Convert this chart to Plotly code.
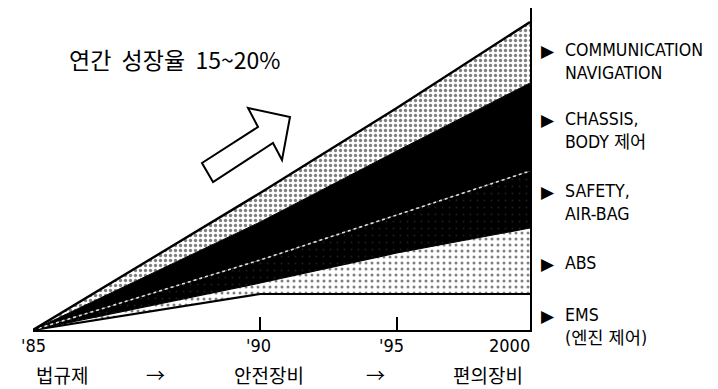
import numpy as np
import plotly.graph_objects as go

# ---------------- data ----------------
years = [1985, 1990, 1995, 2000]
tick_labels = ["'85", "'90", "'95", "2000"]
ems = [0, 36, 36, 36]
abs_sys = [0, 11, 41, 66]
safety = [0, 23, 38, 57]
chassis = [0, 38, 64, 88]
comm = [0, 29, 43, 61]
series_labels = [
    "COMMUNICATION<br>NAVIGATION",
    "CHASSIS,<br>BODY 제어",
    "SAFETY,<br>AIR-BAG",
    "ABS",
    "EMS<br>(엔진 제어)",
]
stage_labels = ["법규제", "→", "안전장비", "→", "편의장비"]
title_text = "연간  성장율  15~20%"

# ---------------- figure geometry ----------------
W, H = 718, 389
L, R, T, B = 33, 530, 8, 330  # plot area in pixels
YMAX = 322

# the original draws the time axis piecewise (first 5 years stretched)
axis_years = [1985, 1990, 1995, 2000]
axis_frac = [0.0, 0.457, 0.732, 1.0]
xpos = np.interp(years, axis_years, axis_frac)


def px(x, y):
    """pixel -> paper coordinates"""
    return (x - L) / (R - L), (B - y) / (B - T)


stack = np.cumsum(np.array([ems, abs_sys, safety, chassis, comm], dtype=float), axis=0)

LAT = "DejaVu Sans Condensed, Liberation Sans Narrow, DejaVu Sans, sans-serif"
KR = "Noto Sans CJK KR, sans-serif"

fig = go.Figure()
# EMS (white)
fig.add_trace(go.Scatter(x=xpos, y=stack[0], mode="lines", fill="tozeroy",
                         fillcolor="white", line=dict(color="black", width=2.2),
                         hoverinfo="skip", showlegend=False))
# ABS (sparse dots)
fig.add_trace(go.Scatter(x=xpos, y=stack[1], mode="lines", fill="tonexty",
                         fillcolor="white",
                         fillpattern=dict(shape=".", fgcolor="black", bgcolor="white",
                                          size=6, solidity=0.2),
                         line=dict(color="black", width=1.2),
                         hoverinfo="skip", showlegend=False))
# SAFETY (black, speckled)
fig.add_trace(go.Scatter(x=xpos, y=stack[2], mode="lines", fill="tonexty",
                         fillcolor="black",
                         fillpattern=dict(shape=".", fgcolor="#3a3a3a", bgcolor="black",
                                          size=7, solidity=0.06),
                         line=dict(color="#e0e0e0", width=1.6, dash="dot"),
                         hoverinfo="skip", showlegend=False))
# CHASSIS (black)
fig.add_trace(go.Scatter(x=xpos, y=stack[3], mode="lines", fill="tonexty",
                         fillcolor="black", line=dict(color="black", width=1),
                         hoverinfo="skip", showlegend=False))
# COMMUNICATION (dense stipple)
fig.add_trace(go.Scatter(x=xpos, y=stack[4], mode="lines", fill="tonexty",
                         fillcolor="white",
                         fillpattern=dict(shape=".", fgcolor="black", bgcolor="white",
                                          size=5, solidity=0.35),
                         line=dict(color="black", width=2.4),
                         hoverinfo="skip", showlegend=False))

annotations = []
# tick labels
tick_anchor = ["center", "center", "center", "right"]
tick_shift = [0, -2, -5, 2]
for xv, lab, anc, sh in zip(xpos, tick_labels, tick_anchor, tick_shift):
    annotations.append(dict(x=xv, xref="x", y=px(0, 345)[1], yref="paper",
                            text=lab, showarrow=False, xanchor=anc, yanchor="middle",
                            xshift=sh, font=dict(family=LAT, size=18, color="black")))

# stage labels along the bottom
stage_x = [62, 155, 269, 375, 488]
for sx, lab in zip(stage_x, stage_labels):
    xp, yp = px(sx, 374)
    annotations.append(dict(x=xp, xref="paper", y=yp, yref="paper", text=lab,
                            showarrow=False, xanchor="center", yanchor="middle",
                            font=dict(family=KR, size=19, color="black")))

# right-hand series labels
label_y = [51, 120, 192, 264, 316]
for ly, lab in zip(label_y, series_labels):
    xp, yp = px(548, ly)
    annotations.append(dict(x=xp, xref="paper", y=yp, yref="paper", text="▶",
                            showarrow=False, xanchor="center", yanchor="middle",
                            font=dict(family="DejaVu Sans", size=17, color="black")))
    xp2, yp2 = px(564, ly - 12)
    annotations.append(dict(x=xp2, xref="paper", y=yp2, yref="paper", text=lab,
                            showarrow=False, xanchor="left", yanchor="top", align="left",
                            borderpad=0,
                            font=dict(family=LAT + ", " + KR, size=17.6, color="black")))

# title text
xp, yp = px(67, 59)
annotations.append(dict(x=xp, xref="paper", y=yp, yref="paper", text=title_text,
                        showarrow=False, xanchor="left", yanchor="middle",
                        font=dict(family=KR, size=23, color="black")))

# hollow block arrow
arrow_px = [(213, 182), (202, 163), (258, 127), (248, 108), (290, 117), (282, 160), (273, 143)]
pts = [px(a, b) for a, b in arrow_px]
path = "M " + " L ".join(f"{a:.4f},{b:.4f}" for a, b in pts) + " Z"

fig.update_layout(
    width=W, height=H,
    margin=dict(l=L, r=W - R, t=T, b=H - B, pad=0),
    paper_bgcolor="white", plot_bgcolor="white",
    xaxis=dict(range=[0, 1], tickvals=list(xpos), ticktext=[""] * len(xpos),
               ticks="inside", ticklen=13, tickwidth=2, tickcolor="black",
               showgrid=False, zeroline=False, showline=True, linecolor="black",
               linewidth=2.2, fixedrange=True),
    yaxis=dict(range=[0, YMAX], side="right", showticklabels=False, ticks="",
               showgrid=False, zeroline=False, showline=True, linecolor="black",
               linewidth=2.2, fixedrange=True),
    annotations=annotations,
    shapes=[dict(type="path", path=path, xref="paper", yref="paper",
                 line=dict(color="black", width=2), fillcolor="white")],
)

fig.write_html("out.html")
